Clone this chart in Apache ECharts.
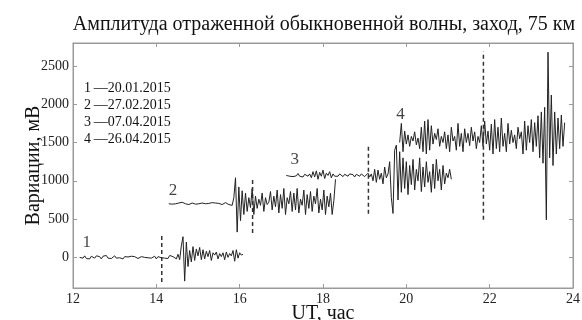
<!DOCTYPE html>
<html><head><meta charset="utf-8">
<script src="https://cdn.jsdelivr.net/npm/echarts@6/dist/echarts.min.js"></script>
<style>html,body{margin:0;padding:0;background:#fff}#c{width:582px;height:320px}</style>
</head><body><div id="c"></div>
<script>
const titleText = 'Амплитуда отраженной обыкновенной волны, заход, 75 км';
const xName = 'UT, час';
const yName = 'Вариации, мВ';
const xTicks = [12, 14, 16, 18, 20, 22, 24];
const yTicks = [0, 500, 1000, 1500, 2000, 2500];
const legendLines = ['1\u2009—20.01.2015', '2\u2009—27.02.2015', '3\u2009—07.04.2015', '4\u2009—26.04.2015'];
const curveNames = ['1', '2', '3', '4'];
const sampleStep = 0.04;           // hours between samples
const startTimes = [12.16, 14.30, 17.12, 19.84];

const s1 = [0, 15, -10, 20, -15, 10, -20, 15, 5, -10,
  20, -5, 10, -20, 15, 0, 25, -10, 5, -15,
  10, 20, -10, 5, -5, 15, -20, 10, 0, 5,
  -10, 15, -5, 10, 0, -15, 5, 10, -10, 0,
  5, -5, 10, -10, 0, 15, -20, 10, 5, -5,
  20, -10, 15, -15, 25, 0, 10, 30,
  -20, 40, -30,
  150, 270, -310, 200, -120, 90,
  -60, 140, -40, 110, 20, 130, -30, 100, -20, 80, 10, 90, -40, 60, 30, 70,
  -20, 50, 10, 60, -30, 70, 0, 50, 20, 90, -50, 100, -10, 60, 30, 40];

const s2 = [700, 710, 695, 715, 700, 690, 710, 705, 720, 695,
  700, 715, 690, 705, 710, 700, 695, 715, 700, 690,
  710, 720, 700, 695, 705, 690, 715, 700, 710, 695,
  705, 720, 690, 700, 715, 700, 690, 710,
  680, 780, 1040, 330, 920, 480, 870, 560, 840, 600,
  780, 650, 900, 560, 800, 640, 760, 680, 840, 600,
  780, 690, 720, 860, 620, 800, 660, 880, 580, 820,
  640, 900, 560, 780, 700, 860, 600, 840, 620, 900,
  580, 760, 680, 880, 560, 820, 640, 860, 600, 800,
  700, 900, 580, 760, 620, 880, 560, 800, 660, 840,
  560, 740, 1020];

const s3 = [1070, 1090, 1060, 1085, 1055, 1080, 1065, 1095, 1060, 1075, 1050, 1085, 1070, 1060, 1090,
  1040, 1120, 1050, 1130, 1020, 1110, 1060, 1140, 1030, 1100, 1070, 1120, 1040, 1090, 1060,
  1080, 1060, 1090, 1070, 1055, 1085, 1075, 1060, 1090, 1065, 1080, 1050, 1085, 1070, 1060, 1090,
  1075, 1055, 1080, 1100, 1050, 1090,
  1000, 1150, 980, 1140, 1020, 1100, 960, 1180, 1040, 1090,
  1250, 780, 574, 1400, 1466, 750, 1380, 850, 1300, 900,
  1250, 820, 1200, 950, 1280, 880, 1150, 1000, 1300, 860,
  1180, 920, 1250, 980, 1120, 850, 1220, 900, 1280, 1000,
  1150, 880, 1200, 960, 1100, 1040, 1150, 1020];

const s4 = [1500, 1750, 1380, 1650, 1480, 1600, 1450, 1580, 1520, 1640,
  1470, 1560, 1420, 1700, 1380, 1780, 1350, 1800, 1400, 1720,
  1480, 1620, 1540, 1680, 1450, 1580, 1500, 1640, 1420, 1600,
  1380, 1700, 1520, 1580, 1400, 1750, 1450, 1620, 1380, 1680,
  1500, 1620, 1460, 1700, 1520, 1640, 1420, 1580, 1500, 1720,
  1450, 1780, 1480, 1650, 1400, 1740, 1350, 1800, 1420, 1700,
  1380, 1820, 1450, 1620, 1380, 1750, 1480, 1660, 1500, 1600,
  1420, 1700, 1550, 1640, 1350, 1780, 1400, 1720, 1500, 1800,
  1380, 1760, 1450, 1850, 1300, 1900, 1230, 1960, 490, 2680,
  1300, 2120, 1200, 1900, 1350, 1820, 1420, 1860, 1450, 1760];

const curves = [s1, s2, s3, s4];

// dashed markers
const dashX = [14.13, 16.31, 19.09, 21.85];
const dashLow = [-320, 320, 570, 490];
const dashHigh = [290, 1040, 1480, 2690];

// curve number labels (data coords)
const numLabelX = [12.33, 14.40, 17.32, 19.86];
const numLabelY = [190, 875, 1275, 1870];

const FONT = 'Liberation Serif';
const axisGray = '#9a9a9a';
const lineCol = '#222';

const chart = echarts.init(document.getElementById('c'), null, {renderer: 'canvas'});

const series = [];
curves.forEach((vals, k) => {
  series.push({
    type: 'line', name: curveNames[k], showSymbol: false, symbol: 'none',
    data: vals.map((v, i) => [startTimes[k] + sampleStep * i, v]),
    lineStyle: {color: lineCol, width: 1}, animation: false, z: 3
  });
});
dashX.forEach((x, k) => {
  series.push({
    type: 'line', showSymbol: false, symbol: 'none',
    data: [[x, dashLow[k]], [x, dashHigh[k]]],
    lineStyle: {color: '#333', width: 1.5, type: [4, 3]}, animation: false, z: 4
  });
});
series.push({
  type: 'scatter', symbolSize: 0, animation: false,
  data: curveNames.map((n, k) => ({value: [numLabelX[k], numLabelY[k]], name: n})),
  label: {show: true, position: 'inside', formatter: p => p.name,
    fontFamily: FONT, fontSize: 17, color: '#111'}
});

const plain = v => String(v);

const option = {
  backgroundColor: '#fff',
  animation: false,
  grid: {left: 73, right: 9, top: 43, bottom: 32, containLabel: false, outerBoundsMode: 'none',
    show: true, borderColor: axisGray, borderWidth: 1, backgroundColor: 'transparent'},
  xAxis: [{
    type: 'value', min: 12, max: 24, interval: 2, position: 'bottom',
    name: xName, nameLocation: 'middle', nameGap: 16, nameMoveOverlap: false,
    nameTextStyle: {fontFamily: FONT, fontSize: 20, color: '#111', verticalAlign: 'top'},
    axisLine: {show: true, onZero: false, lineStyle: {color: axisGray}},
    axisTick: {show: true, inside: true, length: 4, lineStyle: {color: axisGray}},
    axisLabel: {fontFamily: FONT, fontSize: 14, color: '#222', margin: 4, formatter: plain},
    splitLine: {show: false}
  }, {
    type: 'value', min: 12, max: 24, interval: 2, position: 'top',
    axisLine: {show: true, onZero: false, lineStyle: {color: axisGray}},
    axisTick: {show: true, inside: true, length: 4, lineStyle: {color: axisGray}},
    axisLabel: {show: false}, splitLine: {show: false}
  }],
  yAxis: [{
    type: 'value', min: -400, max: 2800, position: 'left',
    name: yName, nameLocation: 'middle', nameGap: 29, nameRotate: 90, nameMoveOverlap: false,
    nameTextStyle: {fontFamily: FONT, fontSize: 20, color: '#111'},
    axisLine: {show: true, onZero: false, lineStyle: {color: axisGray}},
    axisTick: {show: true, inside: true, length: 4, lineStyle: {color: axisGray}, customValues: yTicks},
    axisLabel: {fontFamily: FONT, fontSize: 14, color: '#222', margin: 4, customValues: yTicks, formatter: plain},
    splitLine: {show: false}
  }, {
    type: 'value', min: -400, max: 2800, position: 'right',
    axisLine: {show: true, onZero: false, lineStyle: {color: axisGray}},
    axisTick: {show: true, inside: true, length: 4, lineStyle: {color: axisGray}, customValues: yTicks},
    axisLabel: {show: false}, splitLine: {show: false}
  }],
  graphic: [
    {type: 'text', x: 324, y: 25, style: {text: titleText, fontFamily: FONT, fontSize: 20,
      fill: '#111', textAlign: 'center', textVerticalAlign: 'middle'}},
  ].concat(legendLines.map((t, k) => ({
    type: 'text', x: 84, y: 88 + k * 17.1,
    style: {text: t, fontFamily: FONT, fontSize: 14, fill: '#111', textAlign: 'left', textVerticalAlign: 'middle'}
  }))),
  series: series
};
chart.setOption(option);
</script>
</body></html>
